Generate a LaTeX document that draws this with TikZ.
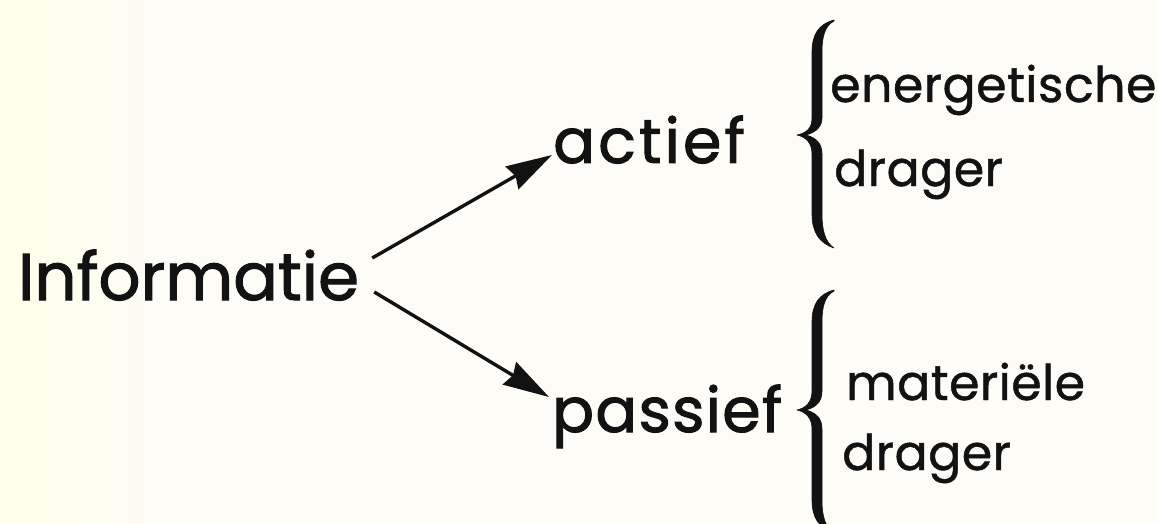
\documentclass[tikz,border=0pt]{standalone}
\usepackage{fontspec}
\setmainfont{Poppins}
\newfontfamily\bigfont{Poppins}[FakeBold=1.6]
\newfontfamily\midfont{Poppins}[FakeBold=1.6,LetterSpace=5]
\newfontfamily\midfontb{Poppins}[FakeBold=1.6,LetterSpace=2]
\newfontfamily\smallfont{Poppins}[FakeBold=1.0,LetterSpace=1]
\usetikzlibrary{arrows.meta}
\definecolor{paper}{RGB}{253,252,246}
\definecolor{paperleft}{RGB}{255,255,234}
\definecolor{ink}{RGB}{18,18,18}
\tikzset{
  bigword/.style={inner sep=0pt, anchor=base west, text=ink, font=\bigfont\fontsize{66}{70}\selectfont},
  midword/.style={inner sep=0pt, anchor=base west, text=ink, font=\midfont\fontsize{62}{66}\selectfont},
  midwordb/.style={inner sep=0pt, anchor=base west, text=ink, font=\midfontb\fontsize{62}{66}\selectfont},
  smallword/.style={inner sep=0pt, anchor=base west, text=ink, font=\smallfont\fontsize{49}{52}\selectfont},
  arr/.style={draw=ink, line width=3.4pt, -{Stealth[length=46pt,width=26pt,inset=4pt]}},
  bracefill/.style={fill=ink, draw=ink, line width=0.6pt, line join=round}
}
\begin{document}
\begin{tikzpicture}[x=1pt,y=-1pt]
\fill[paper] (0,0) rectangle (1157,524);
\shade[left color=paperleft, right color=paper] (0,0) rectangle (160,524);
\useasboundingbox (0,0) rectangle (1157,524);
\clip (0,0) rectangle (1157,524);

\node[bigword] (inf) at (18,300) {Informatie};
\node[midword] (act) at (553,163) {actief};
\node[midwordb] (pas) at (552,432) {passief};

\node[smallword] (en) at (830,102) {energetische};
\node[smallword] (dr1) at (834,186) {drager};
\node[smallword] (mat) at (846,400) {materiële};
\node[smallword] (dr2) at (842,470) {drager};

\draw[arr] ([shift={(13,-42)}]inf.base east) -- ([shift={(-1,-8)}]act.base west);
\draw[arr] ([shift={(15,-8)}]inf.base east) -- ([shift={(-3,-35)}]pas.base west);

% upper brace
\fill[bracefill] (834,20) .. controls (819,24) and (812,34) .. (812,52)
  -- (812,118) .. controls (812,129) and (806,133) .. (797,135)
  .. controls (806,137) and (812,143) .. (812,154)
  -- (812,214) .. controls (812,232) and (819,243) .. (834,248)
  .. controls (825,242) and (822,230) .. (822,214)
  -- (822,154) .. controls (822,144) and (817,138) .. (806,135)
  .. controls (817,132) and (822,126) .. (822,118)
  -- (822,52) .. controls (822,36) and (825,26) .. (834,21) -- cycle;

% lower brace
\fill[bracefill] (834,290) .. controls (819,294) and (812,304) .. (812,322)
  -- (812,391) .. controls (812,402) and (806,408) .. (797,410)
  .. controls (806,412) and (812,418) .. (812,429)
  -- (812,500) .. controls (812,518) and (819,528) .. (834,533)
  .. controls (825,527) and (822,516) .. (822,500)
  -- (822,429) .. controls (822,419) and (817,413) .. (806,410)
  .. controls (817,407) and (822,401) .. (822,391)
  -- (822,322) .. controls (822,306) and (825,296) .. (834,291) -- cycle;
\end{tikzpicture}
\end{document}
